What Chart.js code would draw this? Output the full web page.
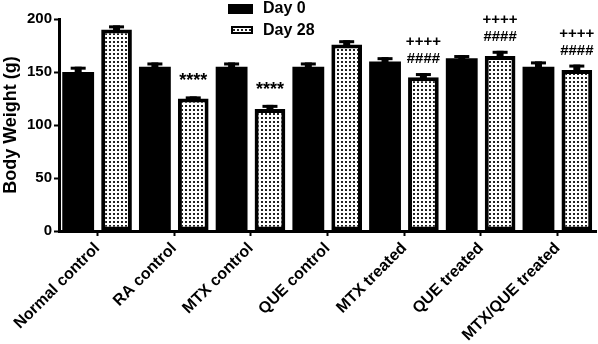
<!DOCTYPE html>
<html>
<head>
<meta charset="utf-8">
<script src="https://cdn.jsdelivr.net/npm/chart.js@4.4.1/dist/chart.umd.min.js"></script>
<style>
  html, body { margin: 0; padding: 0; background: #fff; }
  #wrap { width: 598px; height: 344px; position: relative; }
</style>
</head>
<body>
<div id="wrap"><canvas id="chart"></canvas></div>
<script>
const categories = ['Normal control', 'RA control', 'MTX control', 'QUE control', 'MTX treated', 'QUE treated', 'MTX/QUE treated'];
const day0 = [150, 155, 155, 155, 160, 163, 155];
const day0Err = [5, 4, 4, 4, 4, 3, 5];
const day28 = [190, 125, 115, 176, 145, 165, 152];
const day28Err = [4, 2, 4, 4, 4, 5, 5];
// significance marks above the Day 28 bars (bottom to top)
const day28Marks = [[], ['****'], ['****'], [], ['####', '++++'], ['####', '++++'], ['####', '++++']];
const yTicks = [0, 50, 100, 150, 200];
const seriesNames = ['Day 0', 'Day 28'];

const FONT = "'Liberation Sans', Arial, sans-serif";

// dotted fill for the Day 28 bars
function makeDots() {
  const c = document.createElement('canvas');
  c.width = 4; c.height = 4;
  const g = c.getContext('2d');
  g.fillStyle = '#fff';
  g.fillRect(0, 0, 4, 4);
  g.fillStyle = '#222';
  g.fillRect(1, 1, 2, 2);
  return g.createPattern(c, 'repeat');
}
const ctx = document.getElementById('chart').getContext('2d');
const dots = makeDots();

const errors = [day0Err, day28Err];

const extras = {
  id: 'extras',
  afterDatasetsDraw(chart) {
    const c = chart.ctx;
    const y = chart.scales.y;
    c.save();
    c.fillStyle = '#000';
    chart.data.datasets.forEach((ds, di) => {
      const meta = chart.getDatasetMeta(di);
      meta.data.forEach((bar, i) => {
        const top = y.getPixelForValue(ds.data[i] + errors[di][i]);
        // stem + cap
        c.fillRect(bar.x - 3.5, top, 7, bar.y - top + 1);
        c.fillRect(bar.x - 7.5, top, 15, 3);
        if (di === 1) {
          c.textAlign = 'center';
          c.textBaseline = 'middle';
          day28Marks[i].forEach((m, k) => {
            c.font = (m === '****' ? 'bold 18px ' : 'bold 15px ') + FONT;
            const off = m === '****' ? 15 : 14 + k * 17;
            c.fillText(m, bar.x, top - off);
          });
        }
      });
    });
    c.restore();
  },
  afterDraw(chart) {
    // legend, stacked in two rows
    const c = chart.ctx;
    c.save();
    c.fillStyle = '#000';
    c.fillRect(228, 4, 25, 10);
    c.fillRect(231, 26, 22, 8);
    c.fillStyle = dots;
    c.fillRect(233, 28, 18, 4);
    c.fillStyle = '#000';
    c.font = 'bold 16px ' + FONT;
    c.textAlign = 'left';
    c.textBaseline = 'middle';
    c.fillText(seriesNames[0], 263, 9);
    c.fillText(seriesNames[1], 263, 31);
    c.restore();
  }
};

new Chart(ctx, {
  type: 'bar',
  data: {
    labels: categories,
    datasets: [
      {
        label: seriesNames[0],
        data: day0,
        backgroundColor: '#000',
        borderColor: '#000',
        borderWidth: 0,
        barPercentage: 0.83,
        categoryPercentage: 1.0
      },
      {
        label: seriesNames[1],
        data: day28,
        backgroundColor: dots,
        borderColor: '#000',
        borderWidth: 4,
        borderSkipped: false,
        barPercentage: 0.8,
        categoryPercentage: 1.0
      }
    ]
  },
  options: {
    responsive: true,
    maintainAspectRatio: false,
    animation: false,
    layout: { padding: { top: 19, right: 2, left: 0, bottom: 0 } },
    plugins: {
      legend: { display: false },
      tooltip: { enabled: false }
    },
    scales: {
      x: {
        grid: { display: true, offset: false, drawOnChartArea: false, tickLength: 5, tickColor: '#000', tickWidth: 2 },
        border: { color: '#000', width: 3 },
        ticks: {
          color: '#000',
          font: { family: FONT, size: 16, weight: 'bold' },
          minRotation: 45,
          maxRotation: 45,
          padding: 3,
          autoSkip: false
        },
        afterFit: s => { s.height = 113; }
      },
      y: {
        min: 0,
        max: 200,
        afterBuildTicks: s => { s.ticks = yTicks.map(v => ({ value: v })); },
        grid: { display: true, drawOnChartArea: false, tickLength: 5, tickColor: '#000', tickWidth: 2 },
        border: { color: '#000', width: 3 },
        ticks: {
          color: '#000',
          font: { family: FONT, size: 15, weight: 'bold' },
          padding: 2
        },
        title: {
          display: true,
          text: 'Body Weight (g)',
          color: '#000',
          font: { family: FONT, size: 18, weight: 'bold' },
          padding: 0
        },
        afterFit: s => { s.width = 59; }
      }
    }
  },
  plugins: [extras]
});
</script>
</body>
</html>
